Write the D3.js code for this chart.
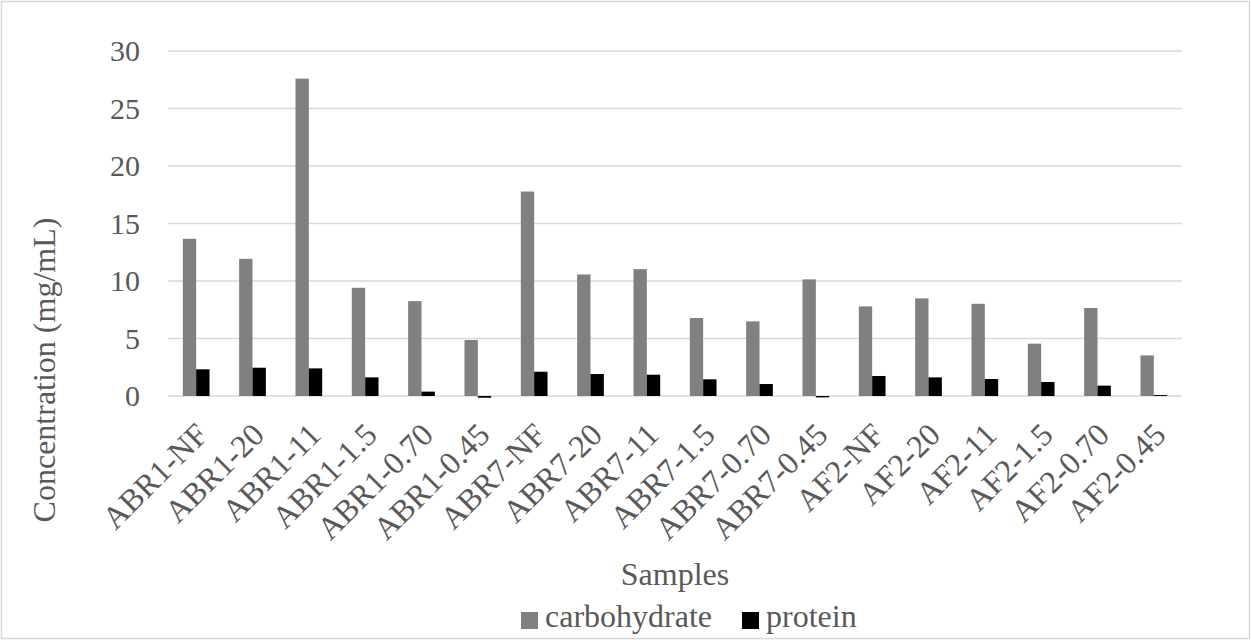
<!DOCTYPE html>
<html>
<head>
<meta charset="utf-8">
<script src="https://cdn.jsdelivr.net/npm/d3@7"></script>
<style>
  html, body { margin: 0; padding: 0; background: #ffffff; }
  svg text { font-family: "Times New Roman", "Liberation Serif", Tinos, "DejaVu Serif", serif !important; fill: #595959; }
</style>
</head>
<body>
<svg id="chart" width="1251" height="640"></svg>
<script>
// Sample names along the x axis
const samples = [
  "ABR1-NF", "ABR1-20", "ABR1-11", "ABR1-1.5", "ABR1-0.70", "ABR1-0.45",
  "ABR7-NF", "ABR7-20", "ABR7-11", "ABR7-1.5", "ABR7-0.70", "ABR7-0.45",
  "AF2-NF", "AF2-20", "AF2-11", "AF2-1.5", "AF2-0.70", "AF2-0.45"
];
// Concentrations in mg/mL
const carbohydrate = [13.67, 11.93, 27.6, 9.41, 8.25, 4.87, 17.78, 10.57, 11.03, 6.78, 6.49, 10.14, 7.79, 8.49, 8.02, 4.55, 7.65, 3.53];
const protein = [2.32, 2.46, 2.4, 1.62, 0.38, -0.15, 2.11, 1.91, 1.85, 1.45, 1.04, -0.12, 1.74, 1.62, 1.48, 1.22, 0.9, 0.08];
const seriesNames = ["carbohydrate", "protein"];
const seriesColors = ["#808080", "#000000"];
const yTicks = [0, 5, 10, 15, 20, 25, 30];

const svg = d3.select("#chart");
const W = 1251, H = 640;
const plot = { left: 168, right: 1182, top: 51, bottom: 396 };

// outer frame
svg.append("rect")
  .attr("x", 1.5).attr("y", 1.5)
  .attr("width", W - 3).attr("height", H - 3)
  .attr("fill", "#ffffff").attr("stroke", "#d9d9d9").attr("stroke-width", 1.5);

const x = d3.scaleBand().domain(samples)
  .range([plot.left, plot.right])
  .paddingInner(0.526).paddingOuter(0.263);
const xs = d3.scaleBand().domain(seriesNames).range([0, x.bandwidth()]).padding(0);
const y = d3.scaleLinear().domain([0, 30]).range([plot.bottom, plot.top]);

// horizontal gridlines
svg.append("g").selectAll("line").data(yTicks).join("line")
  .attr("x1", plot.left).attr("x2", plot.right)
  .attr("y1", d => y(d)).attr("y2", d => y(d))
  .attr("stroke", "#d9d9d9").attr("stroke-width", 1.5);

// y tick labels
const yAxis = svg.append("g")
  .attr("transform", `translate(${plot.left - 28},0)`)
  .call(d3.axisLeft(y).tickValues(yTicks).tickSize(0).tickPadding(0));
yAxis.attr("font-family", null);
yAxis.select(".domain").remove();
yAxis.selectAll("text")
  .attr("font-size", 30)
  .attr("fill", "#595959");

// bars
const rows = samples.map((s, i) => ({ sample: s, values: [carbohydrate[i], protein[i]] }));
const groups = svg.append("g").selectAll("g").data(rows).join("g")
  .attr("transform", d => `translate(${x(d.sample)},0)`);
groups.selectAll("rect")
  .data(d => d.values.map((v, k) => ({ key: seriesNames[k], value: v, color: seriesColors[k] })))
  .join("rect")
  .attr("x", d => xs(d.key))
  .attr("width", xs.bandwidth())
  .attr("y", d => y(Math.max(0, d.value)))
  .attr("height", d => Math.abs(y(d.value) - y(0)))
  .attr("fill", d => d.color);

// x tick labels, rotated
const xAxis = svg.append("g")
  .attr("transform", `translate(0,${plot.bottom})`)
  .call(d3.axisBottom(x).tickSize(0).tickPadding(0));
xAxis.attr("font-family", null);
xAxis.select(".domain").remove();
xAxis.selectAll(".tick text")
  .attr("font-size", 32)
  .attr("fill", "#595959")
  .attr("text-anchor", "end")
  .attr("y", 0).attr("dy", "0.69em")
  .attr("transform", "translate(-2,25) rotate(-45)");

// axis titles
svg.append("text")
  .attr("x", (plot.left + plot.right) / 2).attr("y", 585)
  .attr("text-anchor", "middle").attr("font-size", 32)
  .text("Samples");
svg.append("text")
  .attr("transform", "translate(55,370) rotate(-90)")
  .attr("text-anchor", "middle").attr("font-size", 32)
  .text("Concentration (mg/mL)");

// legend
const legend = svg.append("g").attr("transform", "translate(521,627)");
const legendX = [0, 221];
seriesNames.forEach((name, i) => {
  const g = legend.append("g").attr("transform", `translate(${legendX[i]},0)`);
  g.append("rect").attr("x", 0).attr("y", -15).attr("width", 17).attr("height", 17)
    .attr("fill", seriesColors[i]);
  g.append("text").attr("x", 24).attr("y", 0).attr("font-size", 32).text(name);
});
</script>
</body>
</html>
